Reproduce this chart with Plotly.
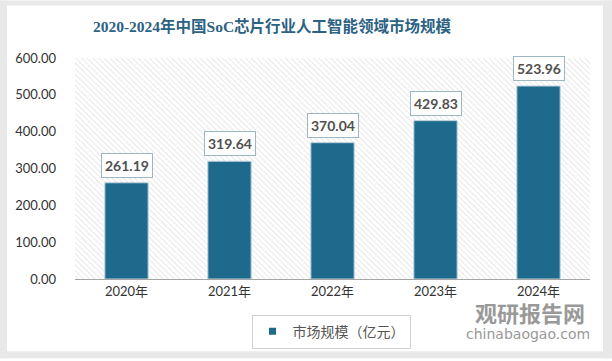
import base64
import plotly.graph_objects as go

years = ["2020年", "2021年", "2022年", "2023年", "2024年"]
values = [261.19, 319.64, 370.04, 429.83, 523.96]
y_ticks = [0, 100, 200, 300, 400, 500, 600]
series_name = "市场规模（亿元）"
title_text = "2020-2024年中国SoC芯片行业人工智能领域市场规模"

W, H = 612, 361
L, R, T, B = 75, 590, 58, 281
pw, ph = R - L, B - T


def xp(px):
    return (px - L) / pw


def yp(py):
    return (B - py) / ph


bar_color = "#1e6a8d"

fig = go.Figure()
fig.add_trace(go.Bar(
    x=years, y=values, name=series_name, width=0.42,
    marker=dict(color=bar_color, line=dict(color="#b8d0dc", width=1)),
    showlegend=False,
))
# legend entry with a small square swatch
fig.add_trace(go.Scatter(
    x=[None], y=[None], mode="markers", name=series_name,
    marker=dict(symbol="square", size=7, color=bar_color), showlegend=True,
))

annotations = []
for xv, v in zip(years, values):
    annotations.append(dict(
        x=xv, y=v, xref="x", yref="y", text=f"{v:.2f}", showarrow=False,
        yanchor="bottom", yshift=5,
        font=dict(family="Lato, DejaVu Sans", size=14, color="#505050", weight="bold"),
        bgcolor="white", bordercolor="#9db6c4", borderwidth=1, borderpad=3,
    ))

# watermark
annotations.append(dict(x=xp(530), y=yp(314), xref="paper", yref="paper", text="<b>观研报告网</b>",
                        showarrow=False, font=dict(family="Noto Sans CJK SC", size=22, color="#8e8e8e"),
                        xanchor="center", yanchor="middle", opacity=0.9))
annotations.append(dict(x=xp(528), y=yp(337), xref="paper", yref="paper", text="chinabaogao.com",
                        showarrow=False, font=dict(family="DejaVu Sans", size=14, color="#8e8e8e"),
                        xanchor="center", yanchor="middle", opacity=0.9))

# hatched plot background as an svg image
svg = f'''<svg xmlns="http://www.w3.org/2000/svg" width="{pw}" height="{ph}">
<defs><pattern id="p" width="4" height="4" patternUnits="userSpaceOnUse" patternTransform="rotate(-45)">
<rect width="4" height="4" fill="#ffffff"/><line x1="0" y1="0" x2="0" y2="4" stroke="#e0e0e0" stroke-width="1.5"/></pattern></defs>
<rect width="{pw}" height="{ph}" fill="url(#p)"/></svg>'''
src = "data:image/svg+xml;base64," + base64.b64encode(svg.encode()).decode()

gray = "#e8e8e8"
shapes = [
    dict(type="rect", xref="paper", yref="paper", x0=xp(0), x1=xp(7), y0=yp(H), y1=yp(0), fillcolor=gray, line_width=0, layer="below"),
    dict(type="rect", xref="paper", yref="paper", x0=xp(603), x1=xp(W), y0=yp(H), y1=yp(0), fillcolor=gray, line_width=0, layer="below"),
    dict(type="rect", xref="paper", yref="paper", x0=xp(0), x1=xp(W), y0=yp(5), y1=yp(0), fillcolor=gray, line_width=0, layer="below"),
    dict(type="rect", xref="paper", yref="paper", x0=xp(0), x1=xp(W), y0=yp(H), y1=yp(354), fillcolor=gray, line_width=0, layer="below"),
]

fig.update_layout(
    width=W, height=H,
    margin=dict(l=L, r=W - R, t=T, b=H - B),
    paper_bgcolor="white", plot_bgcolor="rgba(0,0,0,0)",
    title=dict(text=title_text, x=272 / W, y=1 - 27 / H, xref="container", yref="container",
               xanchor="center", yanchor="middle",
               font=dict(family="Liberation Serif, Noto Sans CJK SC", size=15.5, color="#2c6283", weight="bold")),
    xaxis=dict(showgrid=False, showline=True, linecolor="#a6a6a6", linewidth=1, ticks="",
               tickfont=dict(family="Lato, Noto Sans CJK SC", size=13, color="#333333")),
    yaxis=dict(range=[0, 600], tickvals=y_ticks, tickformat=".2f", showgrid=False, zeroline=False,
               showline=False, ticks="", ticklabelstandoff=18,
               tickfont=dict(family="Lato, DejaVu Sans", size=13, color="#333333")),
    legend=dict(orientation="h", x=xp(331), y=yp(317), xanchor="center", yanchor="top",
                bordercolor="#d0d0d0", borderwidth=1, bgcolor="white", itemwidth=30,
                font=dict(family="Noto Sans CJK SC", size=14, color="#555555")),
    images=[dict(source=src, xref="paper", yref="paper", x=0, y=1, sizex=1, sizey=1,
                 xanchor="left", yanchor="top", sizing="stretch", layer="below")],
    shapes=shapes,
    annotations=annotations,
)

fig.write_html("out.html", config={"displayModeBar": False},
               post_script="document.body.style.margin='0';")
